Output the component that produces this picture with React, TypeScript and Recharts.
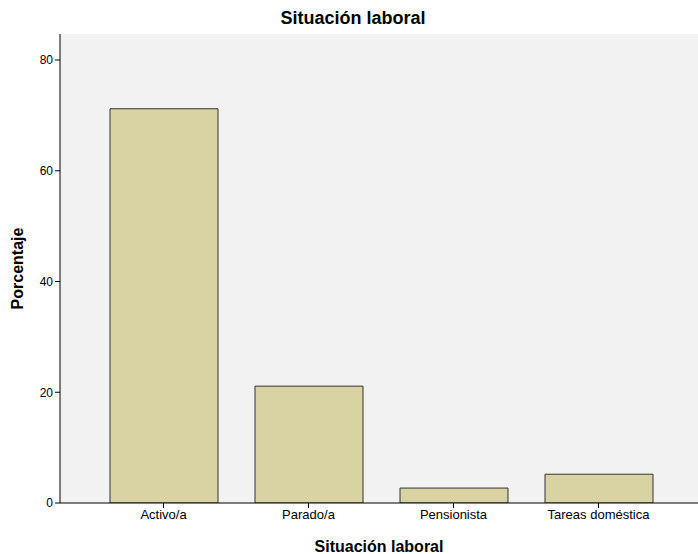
import { BarChart, Bar, XAxis, YAxis, CartesianGrid, Label } from 'recharts';

const categories = ['Activo/a', 'Parado/a', 'Pensionista', 'Tareas doméstica'];
const percentages = [71.2, 21.1, 2.7, 5.2];
const yTicks = [0, 20, 40, 60, 80];

const data = categories.map((c, i) => ({ cat: c, pct: percentages[i] }));
const font = '"Liberation Sans", Arial, sans-serif';

export default function App() {
  return (
    <div style={{ position: 'absolute', left: 0, top: 0, width: 698, height: 554, background: '#fff', fontFamily: font }}>
      <div style={{ position: 'absolute', top: 7, left: 4, width: 698, textAlign: 'center', fontSize: 18, fontWeight: 'bold', color: '#000', lineHeight: '22px' }}>
        Situación laboral
      </div>
      <BarChart width={698} height={554} data={data} margin={{ top: 34, right: 0, bottom: 0, left: 0 }}>
        <CartesianGrid fill="#f2f2f2" vertical={false} horizontal={false} />
        <XAxis xAxisId="top" orientation="top" dataKey="cat" height={0} tick={false} tickLine={false} axisLine={{ stroke: '#999', strokeWidth: 2 }} />
        <XAxis dataKey="cat" height={51} padding={{ left: 31, right: 27 }} tickSize={5}
          axisLine={{ stroke: '#000' }} tickLine={{ stroke: '#000' }}
          tick={{ fill: '#000', fontSize: 13, fontFamily: font }}>
          <Label value="Situación laboral" position="center" dy={18} style={{ fontSize: 16, fontWeight: 'bold', fill: '#000', fontFamily: font }} />
        </XAxis>
        <YAxis width={60} domain={[0, 84.7]} ticks={yTicks} tickSize={5} allowDataOverflow
          axisLine={{ stroke: '#000' }} tickLine={{ stroke: '#000' }}
          tick={{ fill: '#000', fontSize: 12, fontFamily: font }}>
          <Label value="Porcentaje" angle={-90} position="center" dx={-13} style={{ fontSize: 16, fontWeight: 'bold', fill: '#000', fontFamily: font, textAnchor: 'middle' }} />
        </YAxis>
        <Bar dataKey="pct" fill="#d9d3a3" stroke="#333" strokeWidth={1} barSize={108} isAnimationActive={false} />
      </BarChart>
    </div>
  );
}
